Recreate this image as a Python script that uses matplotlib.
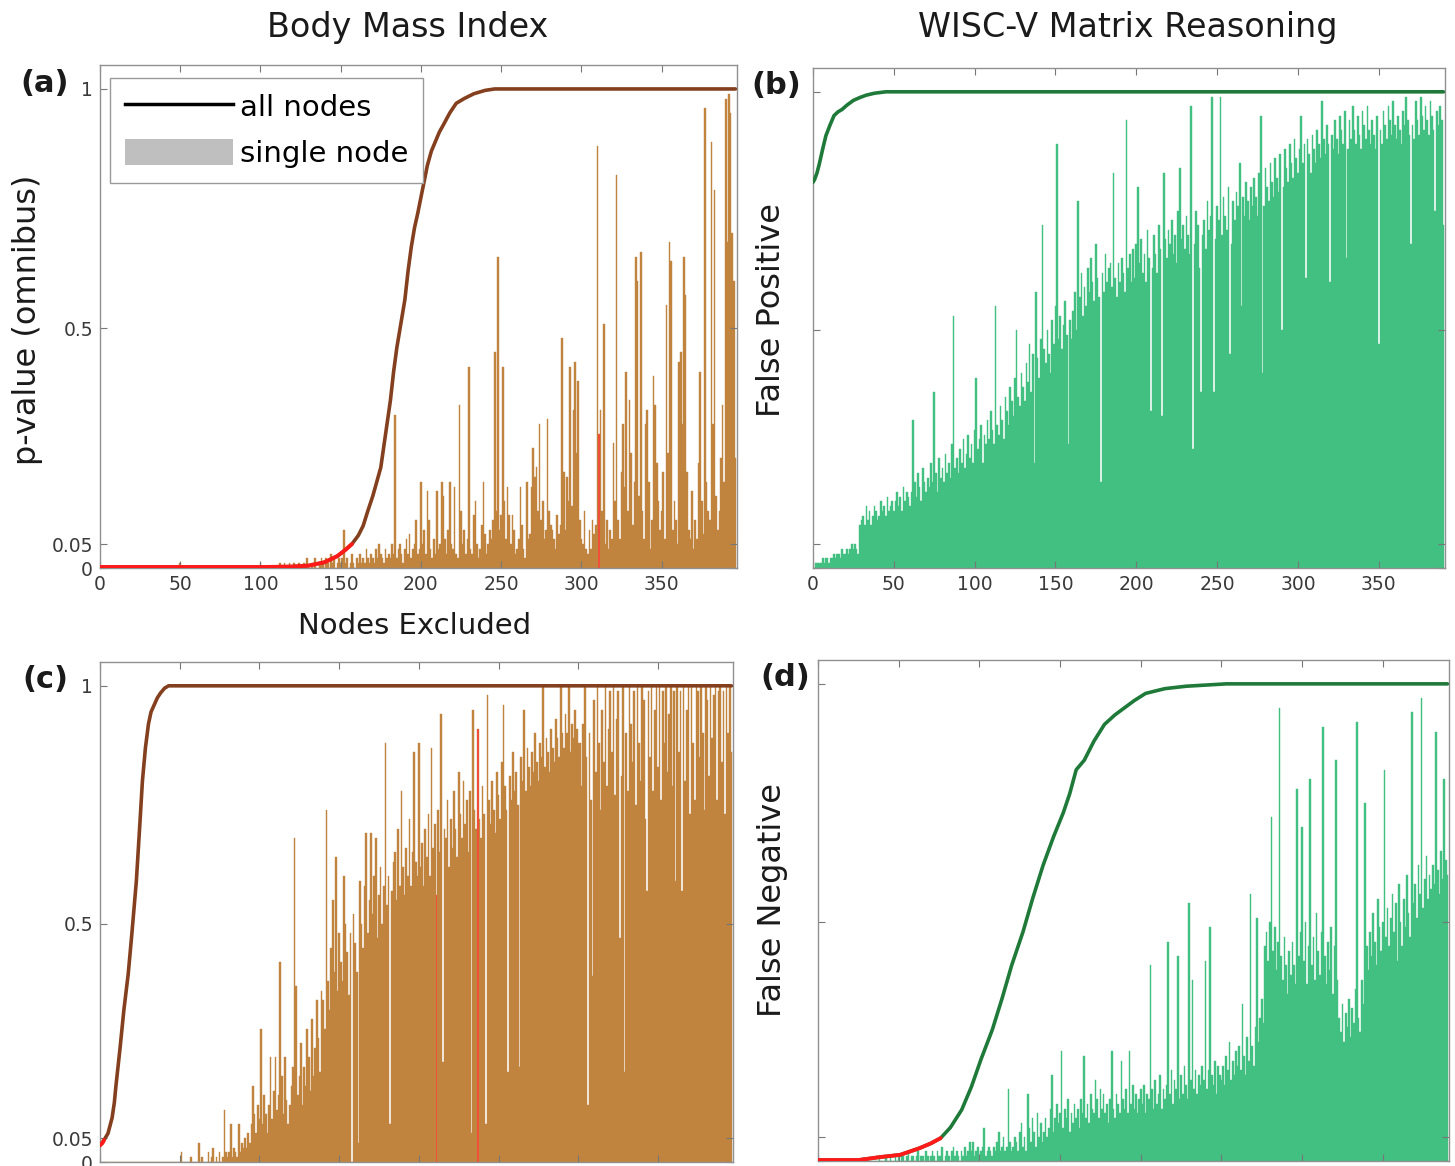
import numpy as np
import matplotlib.pyplot as plt
from matplotlib.lines import Line2D
from matplotlib.patches import Patch

# single-node values (hundredths)
bmi_top = [
    0,0,0,0,0,0,0,0,0,0, 0,0,0,0,0,0,0,0,0,0, 0,0,0,0,0,0,0,0,0,0,
    0,0,0,0,0,0,0,0,0,0, 0,0,0,0,0,0,0,0,0,1, 0,0,0,0,0,0,0,0,0,0,
    0,0,0,0,0,0,0,0,0,0, 0,0,0,0,0,0,0,0,0,0, 0,0,0,0,0,0,0,0,0,0,
    0,0,0,0,0,0,0,0,0,1, 0,0,0,0,0,0,0,0,0,0, 0,1,0,0,1,0,0,1,0,0,
    1,0,0,1,0,0,1,0,2,0, 0,1,0,2,0,0,1,2,1,0, 2,1,0,3,1,2,0,1,2,1,
    2,8,1,2,0,1,3,1,0,2, 1,3,1,2,1,4,2,1,3,2, 1,4,2,5,3,2,1,4,2,3,
    2,5,3,32,2,4,5,3,1,4, 6,3,7,2,4,5,10,3,4,18, 5,8,3,16,10,4,2,6,3,16,
    4,5,18,15,6,3,8,18,5,4, 17,3,2,34,12,5,8,3,6,42, 4,3,11,14,5,2,4,9,18,7,
    3,5,8,6,10,45,12,65,8,11, 42,14,6,17,11,5,11,8,3,4, 6,17,9,4,2,18,6,7,17,25,
    19,21,12,30,10,14,6,8,31,12, 9,8,6,4,11,7,9,48,20,8, 19,14,42,13,33,43,24,39,10,6,
    5,12,4,3,8,4,10,7,9,88, 28,33,12,51,5,10,4,8,6,26, 14,82,10,6,20,30,17,41,12,35,
    24,9,18,65,60,15,66,12,6,30, 33,18,4,10,40,34,22,14,8,12, 20,6,55,24,68,64,8,14,10,5,
    43,45,30,65,57,20,8,6,16,4, 10,6,22,41,14,7,96,18,12,10, 89,30,79,15,8,12,23,34,18,98,
    68,99,95,70,60,23,
]

wisc_top = [
    0,1,1,1,1,2,1,2,2,1, 2,2,3,2,3,3,2,4,3,3, 4,3,4,5,4,5,4,3,9,10,
    11,9,13,10,12,9,11,13,12,10, 11,14,12,13,11,15,12,13,14,12, 14,16,13,15,12,17,14,16,15,13,
    16,31,18,15,20,17,14,21,18,16, 19,17,22,18,37,20,16,23,19,21, 18,24,20,22,19,26,53,21,23,20,
    25,22,27,21,24,28,23,26,22,29, 40,25,27,30,22,28,26,31,27,33, 29,26,55,30,28,34,31,27,36,33,
    30,38,35,32,40,50,36,34,41,38, 35,43,39,47,37,45,22,58,44,40, 48,72,46,43,50,45,41,52,47,55,
    89,48,53,46,51,56,49,26,52,48, 54,58,50,77,57,62,53,59,55,63, 58,65,60,56,68,61,57,18,62,58,
    66,60,63,64,59,83,61,57,64,60, 65,62,58,94,63,66,60,67,61,68, 80,64,69,62,66,60,71,65,33,63,
    70,66,62,72,67,32,83,69,65,71, 68,73,66,70,64,75,84,69,72,67, 74,70,66,97,25,68,75,72,63,37,
    70,73,67,77,71,74,99,37,69,76, 73,99,70,78,74,71,80,45,68,77, 73,79,76,85,55,78,74,81,77,73,
    80,76,82,78,74,83,95,41,76,84, 80,77,85,81,78,86,82,79,87,50, 80,88,84,81,89,85,82,90,86,83,
    88,95,85,89,61,90,87,83,91,88, 85,92,89,86,98,90,87,93,89,60, 91,88,94,90,87,95,92,89,96,65,
    88,94,90,97,92,89,95,91,88,96, 93,90,97,92,89,94,91,88,95,47, 92,89,96,93,90,97,94,91,98,93,
    90,95,92,89,96,93,99,94,91,68, 93,90,98,94,91,99,95,92,97,94, 91,98,95,92,75,96,93,97,94,72,
]

bmi_bottom = [0] * 50 + [
    2,0,0,0,0,0,1,0,0,0, 0,4,0,1,0,0,0,2,0,1, 3,0,1,0,2,0,1,11,2,1,
    2,8,1,3,2,1,8,2,4,3, 5,3,6,4,8,16,10,6,12,9, 28,8,14,10,6,12,22,9,15,22,
    11,14,42,18,10,22,13,8,12,16, 20,68,37,14,18,25,12,20,16,28, 22,15,30,18,24,34,26,19,36,34,
    28,74,38,32,45,55,40,64,36,48, 42,38,60,50,44,35,48,0,52,46, 40,4,59,50,45,58,69,48,55,69,
    52,60,68,47,56,62,50,58,88,54, 60,8,57,63,65,55,70,58,78,62, 56,66,60,72,58,65,86,63,60,88,
    62,67,58,70,64,73,60,87,66,71, 56,74,65,94,21,70,68,76,62,72, 66,78,70,64,82,73,68,80,71,76,
    65,78,6,95,74,70,91,72,68,79, 73,8,98,76,71,80,74,69,82,77, 72,84,96,79,74,19,81,76,86,78,
    82,75,20,85,80,95,78,87,83,79, 86,82,90,84,80,88,85,100,83,89, 86,82,91,87,84,93,89,85,100,90,
    87,94,90,100,86,92,89,95,91,88, 88,79,92,100,85,12,90,76,39,97, 82,100,88,74,95,84,100,79,91,99,
    86,100,77,93,99,47,81,100,19,90, 78,100,92,84,99,75,100,88,80,100, 97,72,57,99,85,100,78,95,100,83,
    100,76,99,88,100,82,94,100,79,99, 59,100,86,99,57,100,80,95,100,73, 100,88,76,100,99,85,100,90,74,100,
    97,81,100,89,98,100,76,99,100,84, 99,73,100,90,100,86,
]

wisc_bottom = [0] * 35 + [
    0,0,1,0,0, 0,1,0,0,1,0,0,1,0,1, 0,1,1,0,1,2,0,1,1,0, 1,2,0,1,1,0,2,1,0,1,
    2,1,0,2,1,1,3,0,1,2, 1,0,2,3,1,2,1,0,2,1, 3,1,2,4,2,4,1,2,3,1, 2,3,7,1,2,3,2,1,3,2,
    4,6,2,3,5,2,3,15,4,2, 3,5,4,2,6,8,3,5,2,14, 7,4,9,6,3,10,5,8,4,6, 9,5,7,11,18,6,9,12,8,10,
    23,7,11,9,13,6,10,8,12,9, 11,7,13,10,22,9,12,8,14,11, 10,17,13,9,15,11,14,10,12,8,
    13,23,11,9,14,12,10,21,13,11, 15,10,23,12,16,11,14,10,13,15, 12,16,10,14,13,41,15,11,17,12,
    14,18,11,15,13,16,46,14,19,12, 17,15,43,13,18,14,20,16,13,54, 17,38,15,19,14,18,16,20,17,42,
    15,19,49,18,16,21,14,20,18,17, 20,16,22,19,25,17,21,18,23,20, 24,19,33,22,18,26,21,56,24,20,
    28,51,25,30,34,29,45,48,42,50, 72,44,49,40,46,95,43,38,47,41, 35,44,39,46,41,37,78,43,48,70,
    42,50,37,45,80,41,47,38,52,44, 39,48,91,43,37,46,40,49,35,45, 84,38,30,27,33,25,31,28,34,26,
    32,29,36,92,30,27,38,33,75,45, 40,48,43,52,46,41,55,49,44,50, 82,47,53,45,51,56,48,54,42,58,
    50,45,55,49,60,52,47,94,54,58, 51,62,56,97,53,59,64,55,60,57, 62,58,90,61,56,65,59,80,63,60,
]

red_bars_top = [311]
red_bars_bottom = [211, 237]

# all-nodes curves (nodes excluded, value)
bmi_top_cx = [0, 50, 100, 120, 130, 140, 148, 153, 157, 161, 164, 167, 170, 172.5, 175, 178,
              181, 183, 185, 187.5, 190, 192, 194, 196, 198, 201, 204, 206.5, 209, 211.5, 214,
              218, 222, 227, 233, 240, 246, 396]
bmi_top_cy = [0.002, 0.002, 0.002, 0.003, 0.005, 0.012, 0.025, 0.038, 0.05, 0.068, 0.088, 0.12,
              0.15, 0.18, 0.21, 0.28, 0.35, 0.41, 0.46, 0.51, 0.56, 0.62, 0.67, 0.71, 0.74, 0.79,
              0.84, 0.87, 0.89, 0.91, 0.925, 0.95, 0.97, 0.98, 0.99, 0.997, 1.0, 1.0]
wisc_top_cx = [0, 1, 2.5, 4, 6, 8, 10.5, 13, 15.5, 18, 21, 25, 29, 33, 38, 45, 390]
wisc_top_cy = [0.81, 0.816, 0.83, 0.85, 0.88, 0.908, 0.93, 0.95, 0.958, 0.963, 0.972, 0.982,
               0.988, 0.993, 0.997, 1.0, 1.0]
bmi_bot_cx = [0, 1.5, 2.5, 5, 7.6, 9, 10, 12.6, 15, 17.7, 20, 22.8, 25, 26.6, 28.5, 30.4, 32,
              34, 36, 38, 40.5, 43, 396]
bmi_bot_cy = [0.035, 0.04, 0.046, 0.06, 0.093, 0.125, 0.16, 0.24, 0.32, 0.395, 0.48, 0.59, 0.71,
              0.80, 0.87, 0.92, 0.945, 0.96, 0.975, 0.985, 0.995, 1.0, 1.0]
wisc_bot_cx = [0, 25, 38, 51, 63, 70, 76, 82, 89, 95, 101, 108, 114, 120, 127, 133, 139.5, 146,
               152, 156, 160, 165, 171, 177.5, 184, 190, 196, 203, 215, 228, 253, 390]
wisc_bot_cy = [0.002, 0.002, 0.008, 0.013, 0.027, 0.037, 0.048, 0.07, 0.107, 0.155, 0.213, 0.275,
               0.34, 0.41, 0.48, 0.55, 0.62, 0.68, 0.73, 0.77, 0.82, 0.84, 0.88, 0.915, 0.935,
               0.95, 0.965, 0.98, 0.99, 0.995, 1.0, 1.0]

BMI_BAR = '#c0843f'
BMI_LINE = '#843f1e'
WISC_BAR = '#41c081'
WISC_LINE = '#1f7a3a'
RED = '#ff1a1a'
FONT = 'DejaVu Sans'

W, H = 1455, 1166
fig = plt.figure(figsize=(W / 100, H / 100), dpi=100)


def px_axes(l, t, r, b):
    return fig.add_axes([l / W, 1 - b / H, (r - l) / W, (b - t) / H])


def panel(ax, bars, cx, cy, bar_color, line_color, n, red_bars, xlabels, ylabels):
    vals = np.array(bars) / 100.0
    x = np.arange(1, len(vals) + 1)
    ax.bar(x, vals, width=1.0, color=bar_color, edgecolor=bar_color, linewidth=0.3)
    for i in red_bars:
        ax.bar(i, vals[i - 1], width=0.9, color='#f0503a', linewidth=0)
    cx = np.array(cx, float)
    cy = np.array(cy, float)
    ax.plot(cx, cy, color=line_color, lw=2.6, solid_capstyle='round', zorder=3)
    if cy[0] <= 0.05:
        k = np.argmax(cy > 0.05)
        ax.plot(cx[:k], cy[:k], color=RED, lw=2.8, solid_capstyle='round', zorder=4)
    ax.set_xlim(0, n)
    ax.set_ylim(0, 1.05)
    ax.set_yticks([0, 0.05, 0.5, 1])
    ax.set_xticks(np.arange(0, 351, 50))
    if ylabels:
        ax.set_yticklabels(['0', '0.05', '0.5', '1'])
    else:
        ax.set_yticklabels([])
    if not xlabels:
        ax.set_xticklabels([])
    ax.tick_params(direction='in', top=True, right=True, length=5, width=0.8,
                   color='#777777', labelcolor='#3a3a3a', labelsize=13.5, pad=5)
    for s in ax.spines.values():
        s.set_color('#909090')
        s.set_linewidth(1.0)


ax_a = px_axes(100, 65, 737, 568)
panel(ax_a, bmi_top, bmi_top_cx, bmi_top_cy, BMI_BAR, BMI_LINE, 397, red_bars_top, True, True)
ax_b = px_axes(813, 68, 1445, 568)
panel(ax_b, wisc_top, wisc_top_cx, wisc_top_cy, WISC_BAR, WISC_LINE, 391, [], True, False)
ax_c = px_axes(100, 662, 733, 1162)
panel(ax_c, bmi_bottom, bmi_bot_cx, bmi_bot_cy, BMI_BAR, BMI_LINE, 397, red_bars_bottom, False, True)
ax_d = px_axes(818, 660, 1449, 1161)
panel(ax_d, wisc_bottom, wisc_bot_cx, wisc_bot_cy, WISC_BAR, WISC_LINE, 391, [], False, False)

handles = [Line2D([0], [0], color='black', lw=2.5),
           Patch(facecolor='#bfbfbf', edgecolor='none')]
leg = ax_a.legend(handles, ['all nodes', 'single node'], loc='upper left',
                  bbox_to_anchor=(0.0157, 0.974), borderaxespad=0,
                  prop={'family': FONT, 'size': 21},
                  handlelength=3.7, handleheight=1.0, handletextpad=0.25,
                  labelspacing=0.6, borderpad=0.5, fancybox=False, framealpha=1)
leg.get_frame().set_edgecolor('#9a9a9a')
leg.get_frame().set_linewidth(1.0)

tfont = dict(fontsize=23, family=FONT, color='#1a1a1a')


def ftext(x, y, s, **kw):
    args = dict(tfont)
    args.update(kw)
    fig.text(x / W, 1 - y / H, s, ha='center', va='center', **args)


ftext(408, 27, 'Body Mass Index', fontsize=24)
ftext(1128, 27, 'WISC-V Matrix Reasoning', fontsize=24)
ftext(415, 626, 'Nodes Excluded', fontsize=21)
ftext(28, 320, 'p-value (omnibus)', rotation=90)
ftext(772, 310, 'False Positive', rotation=90)
ftext(772, 900, 'False Negative', rotation=90)
ftext(45, 84, '(a)', fontweight='bold', fontsize=22)
ftext(776, 86, '(b)', fontweight='bold', fontsize=22)
ftext(45, 680, '(c)', fontweight='bold', fontsize=22)
ftext(785, 678, '(d)', fontweight='bold', fontsize=22)

fig.savefig('out.png', dpi=100)
